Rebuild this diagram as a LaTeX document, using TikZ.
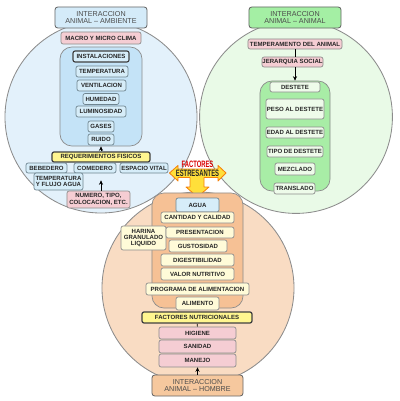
\documentclass[tikz,border=0pt]{standalone}
\usepackage{fontspec}
\setmainfont{Liberation Sans}
\usetikzlibrary{arrows.meta}

\definecolor{circazul}{HTML}{E3F1FB}
\definecolor{circverde}{HTML}{E9FAE7}
\definecolor{circnaranja}{HTML}{F9DCC3}
\definecolor{contazul}{HTML}{C4E3F7}
\definecolor{contverde}{HTML}{A8EDA6}
\definecolor{contnaranja}{HTML}{F6C195}
\definecolor{cajaazul}{HTML}{D6EDF9}
\definecolor{cajarosa}{HTML}{F5CDD3}
\definecolor{cajaverde}{HTML}{EEFBEA}
\definecolor{crema}{HTML}{FFFBD8}
\definecolor{amarillo}{HTML}{FFF690}
\definecolor{titazul}{HTML}{D4EBF9}
\definecolor{titverde}{HTML}{A4EFA4}
\definecolor{titnaranja}{HTML}{F6C89E}
\definecolor{flecha}{HTML}{FFDF3A}
\definecolor{borde}{HTML}{6F8590}

\begin{document}
\begin{tikzpicture}[x=0.025cm, y=-0.025cm, >={Stealth[length=1.1mm, width=1mm]},
  every node/.style={font=\bfseries\fontsize{4.3}{4.6}\selectfont, text=black!85},
  titulo/.style={draw=black!60, line width=0.6pt, rounded corners=2pt, align=center, inner sep=0pt, minimum width=2.3cm, minimum height=0.525cm, font=\fontsize{5.1}{5}\selectfont, text=black!70},
  contenedor/.style={draw=black!45, line width=0.5pt, rounded corners=0.3cm, inner sep=0pt},
  caja/.style={draw=borde, line width=0.5pt, rounded corners=1.5pt, align=center, inner sep=0pt, minimum height=0.275cm},
  azul/.style={caja, fill=cajaazul},
  rosa/.style={caja, fill=cajarosa, draw=black!45},
  verde/.style={caja, fill=cajaverde, draw=black!45},
  crema/.style={caja, fill=crema, draw=black!45},
  amarilla/.style={caja, fill=amarillo, draw=black!75, line width=0.9pt, minimum height=0.25cm}]
  \useasboundingbox (0,0) rectangle (400,401);
  % circulos
  \draw[fill=circnaranja, draw=black!45, line width=0.6pt] (198,288) circle[radius=2.4cm];
  \draw[fill=circazul, draw=black!45, line width=0.6pt] (101,117) circle[radius=2.4cm];
  \draw[fill=circverde, draw=black!45, line width=0.6pt] (296,117) circle[radius=2.41cm];

  % animal - ambiente
  \node[titulo, fill=titazul] (tamb) at (101,17.5) {INTERACCION\\ANIMAL -- AMBIENTE};
  \node[rosa, minimum width=2.0cm, minimum height=0.3cm] (macro) at (101,38) {MACRO Y MICRO CLIMA};
  \node[contenedor, fill=contazul, minimum width=2.05cm, minimum height=2.475cm] (clima) at (101,96.5) {};
  \node[azul, draw=black!75, line width=0.8pt, minimum width=1.4cm] (inst) at (101,56.5) {INSTALACIONES};
  \node[azul, minimum width=1.3cm] (temp) at (102,71.5) {TEMPERATURA};
  \node[azul, minimum width=1.225cm] (vent) at (101.5,85.5) {VENTILACION};
  \node[azul, minimum width=0.9cm] (hum) at (101,99) {HUMEDAD};
  \node[azul, minimum width=1.25cm] (lum) at (101,111.5) {LUMINOSIDAD};
  \node[azul, minimum width=0.65cm] (gases) at (101,126.5) {GASES};
  \node[azul, minimum width=0.65cm] (ruido) at (101,139.5) {RUIDO};
  \node[amarilla, minimum width=2.45cm] (req) at (101,157) {REQUERIMIENTOS FISICOS};
  \node[azul, minimum width=1.025cm, minimum height=0.25cm] (bebedero) at (46.5,168) {BEBEDERO};
  \node[azul, minimum width=1.05cm, minimum height=0.25cm] (comedero) at (95,168) {COMEDERO};
  \node[azul, minimum width=1.2cm, minimum height=0.25cm] (espacio) at (144,168) {ESPACIO VITAL};
  \node[azul, minimum width=1.225cm, minimum height=0.425cm] (tagua) at (58.5,181.5) {TEMPERATURA\\Y FLUJO AGUA};
  \node[rosa, minimum width=1.575cm, minimum height=0.425cm] (numero) at (98.5,199.5) {NUMERO, TIPO,\\COLOCACION, ETC.};
  \draw[->] (req) -- (clima);
  \draw[->, shorten >=0.175cm] (numero.north -| req) -- (comedero.south -| req);

  % animal - animal
  \node[titulo, fill=titverde] (tani) at (295,17.5) {INTERACCION\\ANIMAL -- ANIMAL};
  \node[rosa, minimum width=2.35cm, minimum height=0.25cm] (temperamento) at (295,44) {TEMPERAMENTO DEL ANIMAL};
  \node[rosa, minimum width=1.525cm, minimum height=0.25cm] (jerarquia) at (292.5,62) {JERARQUIA SOCIAL};
  \node[contenedor, fill=contverde, minimum width=1.75cm, minimum height=2.75cm] (cdestete) at (295,136) {};
  \node[verde, minimum width=1.25cm, minimum height=0.25cm] (destete) at (295,87) {DESTETE};
  \node[verde, minimum width=1.45cm, minimum height=0.5cm] (peso) at (295,109) {PESO AL DESTETE};
  \node[verde, minimum width=1.45cm] (edad) at (295,132.5) {EDAD AL DESTETE};
  \node[verde, minimum width=1.4cm] (tipo) at (295,151.5) {TIPO DE DESTETE};
  \node[verde, minimum width=1.0cm, minimum height=0.3cm] (mezclado) at (295,169) {MEZCLADO};
  \node[verde, minimum width=1.025cm] (translado) at (294.5,188.5) {TRANSLADO};
  \draw (temperamento.south) -- (temperamento.south |- jerarquia.north);
  \draw[->] (jerarquia.south -| cdestete) -- (cdestete.north);

  % factores estresantes
  \draw[fill=flecha, draw=orange!85!brown, line width=0.6pt, line join=round]
    (178,169) -- (178,165.5) -- (169.5,173) -- (178,181) -- (178,177.5) -- (190,177.5)
    -- (190,187) -- (186,187) -- (197.5,197) -- (209,187) -- (204,187) -- (204,177.5)
    -- (218,177.5) -- (218,181) -- (226,173) -- (218,165.5) -- (218,169) -- cycle;
  \node[align=center, font=\bfseries\fontsize{6.6}{6.4}\selectfont] (estres) at (197.5,168.5)
    {\scalebox{0.63}[1]{\textcolor{red!85!black}{FACTORES}}\\\scalebox{0.63}[1]{ESTRESANTES}};

  % animal - hombre
  \node[contenedor, fill=contnaranja, minimum width=2.275cm, minimum height=2.875cm] (calim) at (197.5,250.5) {};
  \node[azul, minimum width=1.075cm, minimum height=0.35cm] (agua) at (197.5,205) {AGUA};
  \node[crema, minimum width=1.825cm] (cantidad) at (197.5,217.5) {CANTIDAD Y CALIDAD};
  \node[crema, minimum width=1.125cm, minimum height=0.6cm] (harina) at (143.5,238) {HARINA\\GRANULADO\\LIQUIDO};
  \node[crema, minimum width=1.7cm] (present) at (200,232.5) {PRESENTACION};
  \node[crema, minimum width=1.45cm, minimum height=0.3cm] (gusto) at (198,246) {GUSTOSIDAD};
  \node[crema, minimum width=1.825cm, minimum height=0.3cm] (digest) at (197.5,260) {DIGESTIBILIDAD};
  \node[crema, minimum width=1.825cm, minimum height=0.3cm] (valor) at (197.5,274) {VALOR NUTRITIVO};
  \node[crema, minimum width=2.575cm, minimum height=0.3cm] (programa) at (197.5,289) {PROGRAMA DE ALIMENTACION};
  \node[crema, minimum width=1.075cm, minimum height=0.325cm] (alimento) at (197.5,303.5) {ALIMENTO};
  \node[amarilla, minimum width=2.75cm, minimum height=0.275cm] (factnut) at (197,317.5) {FACTORES NUTRICIONALES};
  \node[rosa, minimum width=1.925cm, minimum height=0.3cm] (higiene) at (197.5,333) {HIGIENE};
  \node[rosa, minimum width=1.925cm, minimum height=0.325cm] (sanidad) at (197.5,346.5) {SANIDAD};
  \node[rosa, minimum width=1.925cm, minimum height=0.325cm] (manejo) at (197.5,360.5) {MANEJO};
  \node[titulo, fill=titnaranja, minimum width=2.275cm] (thom) at (197.5,385.5) {INTERACCION\\ANIMAL -- HOMBRE};
  \draw (factnut) -- (higiene);
  \draw[->] (thom) -- (manejo);
\end{tikzpicture}
\end{document}
